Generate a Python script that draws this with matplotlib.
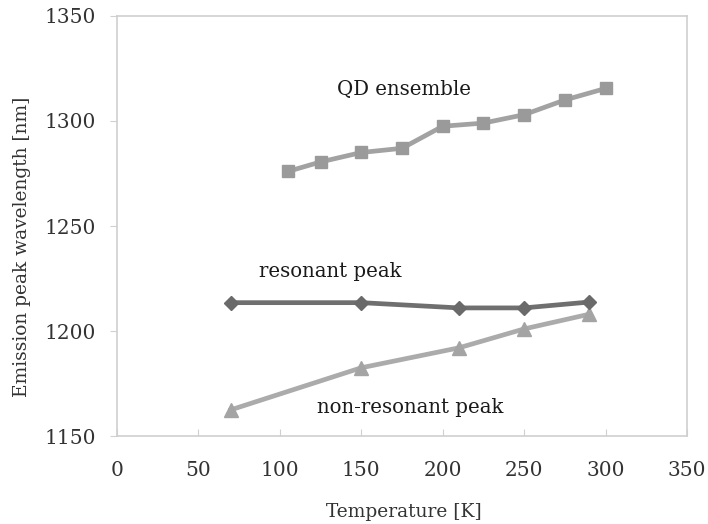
import matplotlib
matplotlib.use("Agg")
import matplotlib.pyplot as plt

# Temperature [K] and emission peak wavelength [nm]
qd_temp = [105, 125, 150, 175, 200, 225, 250, 275, 300]
qd_wl = [1276, 1280.5, 1285, 1287, 1297.5, 1299, 1303, 1310, 1315.5]

res_temp = [70, 150, 210, 250, 290]
res_wl = [1213.5, 1213.5, 1211, 1211, 1213.8]

nonres_temp = [70, 150, 210, 250, 290]
nonres_wl = [1162.5, 1182.5, 1192, 1201, 1208]

x_ticks = [0, 50, 100, 150, 200, 250, 300, 350]
y_ticks = [1150, 1200, 1250, 1300, 1350]

fig = plt.figure(figsize=(7.08, 5.24), dpi=100)
ax = fig.add_axes([0.1653, 0.1679, 0.8050, 0.8016])

ax.plot(qd_temp, qd_wl, color="#a2a2a2", lw=3.4, marker="s", ms=9,
        mec="#9a9a9a", mfc="#9a9a9a")
ax.plot(nonres_temp, nonres_wl, color="#ababab", lw=3.4, marker="^", ms=9.5,
        mec="#a4a4a4", mfc="#a4a4a4")
ax.plot(res_temp, res_wl, color="#6f6f6f", lw=3.4, marker="D", ms=7.5,
        mec="#6a6a6a", mfc="#6a6a6a")

ax.set_xlim(0, 350)
ax.set_ylim(1150, 1350)
ax.set_xticks(x_ticks)
ax.set_yticks(y_ticks)

serif = ["DejaVu Serif"]
for lbl in ax.get_xticklabels() + ax.get_yticklabels():
    lbl.set_fontfamily(serif)
    lbl.set_fontsize(14.5)
    lbl.set_color("#333333")

ax.tick_params(axis="x", direction="in", length=5, color="#d0d0d0", pad=18)
ax.tick_params(axis="y", direction="out", length=5, color="#d0d0d0", pad=10)

for side in ["left", "bottom", "top", "right"]:
    ax.spines[side].set_color("#cfcfcf")
    ax.spines[side].set_linewidth(1.2)

ax.set_xlabel("Temperature [K]", fontfamily=serif, fontsize=13.4,
              color="#333333")
ax.set_ylabel("Emission peak wavelength [nm]", fontfamily=serif, fontsize=13.4,
              color="#333333")
ax.xaxis.set_label_coords(0.503, -0.181)
ax.yaxis.set_label_coords(-0.1667, 0.45)
ax.xaxis.label.set_va("center")
ax.yaxis.label.set_va("center")

lab_font = dict(fontfamily=serif, fontsize=14.2,
                color="#1a1a1a", ha="center", va="center")
ax.text(176.2, 1314.8, "QD ensemble", **lab_font)
ax.text(131.0, 1228.3, "resonant peak", **lab_font)
ax.text(180.0, 1163.8, "non-resonant peak", **lab_font)

fig.savefig("out.png", dpi=100)
